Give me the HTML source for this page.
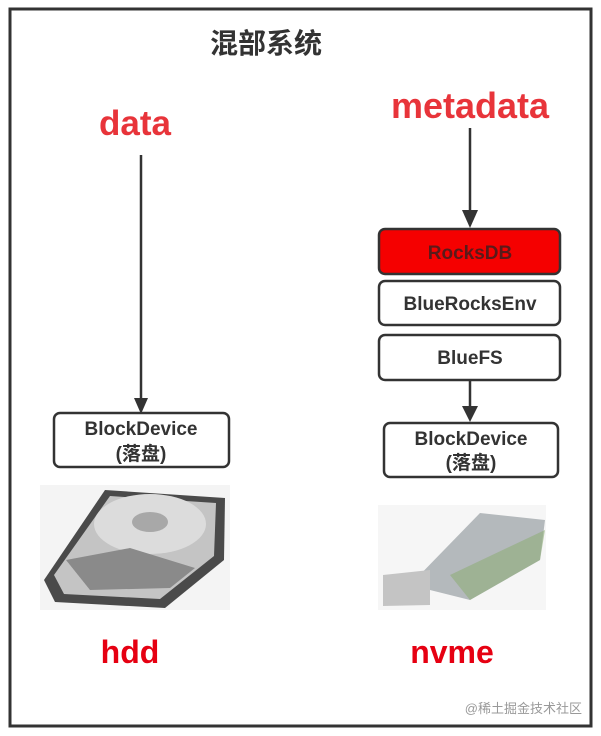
<!DOCTYPE html>
<html><head><meta charset="utf-8"><style>
html,body{margin:0;padding:0;background:#fff;}
svg{display:block;}
text{font-family:"Liberation Sans","Noto Sans CJK SC",sans-serif;font-weight:bold;}
</style></head><body>
<svg width="601" height="736" viewBox="0 0 601 736" xmlns="http://www.w3.org/2000/svg">
<rect x="10" y="9" width="581" height="717" fill="#fff" stroke="#333" stroke-width="3"/>
<text x="266" y="53" font-size="28" fill="#333" text-anchor="middle">混部系统</text>
<text x="135" y="135" font-size="35" fill="#e8343a" text-anchor="middle">data</text>
<text x="470" y="118" font-size="36" fill="#e8343a" text-anchor="middle">metadata</text>
<line x1="141" y1="155" x2="141" y2="400" stroke="#333" stroke-width="2.5"/>
<polygon points="134,398 148,398 141,414" fill="#333"/>
<line x1="470" y1="128" x2="470" y2="212" stroke="#333" stroke-width="2.5"/>
<polygon points="462,210 478,210 470,228" fill="#333"/>
<rect x="54" y="413" width="175" height="54" rx="6" fill="#fff" stroke="#333" stroke-width="2.5"/>
<text x="141" y="435" font-size="19" fill="#333" text-anchor="middle">BlockDevice</text>
<text x="141" y="460" font-size="19" fill="#333" text-anchor="middle">(落盘)</text>
<rect x="379" y="229" width="181" height="45" rx="6" fill="#f50000" stroke="#333" stroke-width="2.5"/>
<text x="470" y="259" font-size="19" fill="#5a1a1a" text-anchor="middle">RocksDB</text>
<rect x="379" y="281" width="181" height="44" rx="6" fill="#fff" stroke="#333" stroke-width="2.5"/>
<text x="470" y="310" font-size="19" fill="#333" text-anchor="middle">BlueRocksEnv</text>
<rect x="379" y="335" width="181" height="45" rx="6" fill="#fff" stroke="#333" stroke-width="2.5"/>
<text x="470" y="364" font-size="19" fill="#333" text-anchor="middle">BlueFS</text>
<line x1="470" y1="380" x2="470" y2="408" stroke="#333" stroke-width="2.5"/>
<polygon points="462,406 478,406 470,422" fill="#333"/>
<rect x="384" y="423" width="174" height="54" rx="6" fill="#fff" stroke="#333" stroke-width="2.5"/>
<text x="471" y="445" font-size="19" fill="#333" text-anchor="middle">BlockDevice</text>
<text x="471" y="469" font-size="19" fill="#333" text-anchor="middle">(落盘)</text>
<rect x="40" y="485" width="190" height="125" fill="#f4f4f4"/>
<polygon points="44,580 105,490 225,498 224,560 165,608 55,602" fill="#4a4a4a"/>
<polygon points="54,575 110,496 216,503 214,556 160,599 64,594" fill="#c4c4c4"/>
<ellipse cx="150" cy="524" rx="56" ry="30" fill="#dcdcdc"/>
<ellipse cx="150" cy="522" rx="18" ry="10" fill="#a8a8a8"/>
<polygon points="66,560 130,548 195,568 170,588 90,590" fill="#8a8a8a"/>
<rect x="378" y="505" width="168" height="105" fill="#f6f6f6"/>
<polygon points="410,585 480,513 545,520 540,560 470,600" fill="#b4b9bc"/>
<polygon points="450,575 545,530 540,560 470,600" fill="#8fae7a" opacity="0.6"/>
<polygon points="383,575 430,570 430,605 383,606" fill="#c4c4c4"/>
<text x="130" y="663" font-size="32" fill="#e60012" text-anchor="middle">hdd</text>
<text x="452" y="663" font-size="32" fill="#e60012" text-anchor="middle">nvme</text>
<text x="582" y="713" font-size="13" fill="#999" text-anchor="end" style="font-weight:normal">@稀土掘金技术社区</text>
</svg>
</body></html>
